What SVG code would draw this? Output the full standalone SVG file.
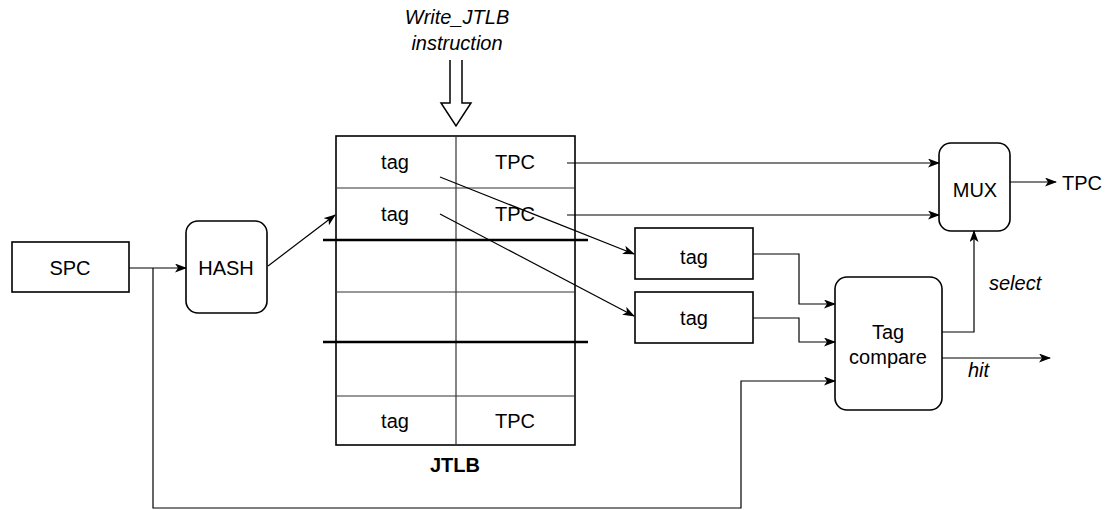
<svg xmlns="http://www.w3.org/2000/svg" width="1115" height="510" viewBox="0 0 1115 510">
<defs>
<style>
text{font-family:"Liberation Sans",Arial,sans-serif;font-size:20px;fill:#000}
.c{text-anchor:middle}
.i{font-style:italic}
.b{font-weight:bold}
.box{fill:#fff;stroke:#000;stroke-width:1.6}
.grid{stroke:#333;stroke-width:1.2;fill:none}
.thick{stroke:#000;stroke-width:2.6;fill:none}
.edge{stroke:#000;stroke-width:1.2;fill:none}
</style>
<marker id="ah" markerWidth="13" markerHeight="10" refX="11" refY="4.5" orient="auto" markerUnits="userSpaceOnUse">
<path d="M0,0 L12,4.5 L0,9 L3,4.5 z" fill="#000"/>
</marker>
</defs>
<rect width="1115" height="510" fill="#fff"/>

<g id="write-instruction">
<text class="c i" x="457" y="24">Write_JTLB</text>
<text class="c i" x="457" y="50">instruction</text>
<path d="M450,60 V103 H441 L456,126 L471,103 H462 V60" fill="#fff" stroke="#000" stroke-width="1.5"/>
</g>

<g id="SPC">
<rect class="box" x="12" y="242" width="117" height="50"/>
<text class="c" x="70" y="275">SPC</text>
</g>

<g id="HASH">
<rect class="box" x="186" y="221" width="81" height="92" rx="12"/>
<text class="c" x="226" y="275">HASH</text>
</g>

<g id="JTLB">
<rect class="box" x="336" y="136" width="239" height="309"/>
<line class="grid" x1="456" y1="136" x2="456" y2="445"/>
<line class="grid" x1="336" y1="188" x2="575" y2="188"/>
<line class="grid" x1="336" y1="292" x2="575" y2="292"/>
<line class="grid" x1="336" y1="396" x2="575" y2="396"/>
<line class="thick" x1="323" y1="240" x2="588" y2="240"/>
<line class="thick" x1="323" y1="342" x2="588" y2="342"/>
<text class="c" x="395" y="169">tag</text>
<text class="c" x="515" y="169">TPC</text>
<text class="c" x="395" y="221">tag</text>
<text class="c" x="515" y="221">TPC</text>
<text class="c" x="395" y="428">tag</text>
<text class="c" x="515" y="428">TPC</text>
<text class="c b" x="455" y="472">JTLB</text>
</g>

<g id="tag1">
<rect class="box" x="635" y="228" width="118" height="51"/>
<text class="c" x="694" y="264">tag</text>
</g>

<g id="tag2">
<rect class="box" x="635" y="292" width="118" height="51"/>
<text class="c" x="694" y="325">tag</text>
</g>

<g id="TagCompare">
<rect class="box" x="835" y="277" width="107" height="133" rx="12"/>
<text class="c" x="888" y="339">Tag</text>
<text class="c" x="888" y="364">compare</text>
</g>

<g id="MUX">
<rect class="box" x="939" y="143" width="71" height="88" rx="12"/>
<text class="c" x="975" y="197">MUX</text>
</g>

<g id="labels">
<text x="1062" y="190">TPC</text>
<text class="i" x="989" y="290">select</text>
<text class="i" x="968" y="377">hit</text>
</g>

<g id="connectors">
<line class="edge" x1="129" y1="268" x2="186" y2="268" marker-end="url(#ah)"/>
<polyline class="edge" points="153,268 153,508 741,508 741,381 835,381" marker-end="url(#ah)"/>
<line class="edge" x1="268" y1="266" x2="335" y2="215" marker-end="url(#ah)"/>
<line class="edge" x1="567" y1="163" x2="939" y2="163" marker-end="url(#ah)"/>
<line class="edge" x1="567" y1="215" x2="939" y2="215" marker-end="url(#ah)"/>
<line class="edge" x1="440" y1="177" x2="634" y2="254" marker-end="url(#ah)"/>
<line class="edge" x1="440" y1="214" x2="634" y2="316" marker-end="url(#ah)"/>
<polyline class="edge" points="753,254 799,254 799,304 835,304" marker-end="url(#ah)"/>
<polyline class="edge" points="753,318 799,318 799,342 835,342" marker-end="url(#ah)"/>
<polyline class="edge" points="942,332 974,332 974,231" marker-end="url(#ah)"/>
<line class="edge" x1="942" y1="358" x2="1050" y2="358" marker-end="url(#ah)"/>
<line class="edge" x1="1010" y1="182" x2="1056" y2="182" marker-end="url(#ah)"/>
</g>
</svg>
